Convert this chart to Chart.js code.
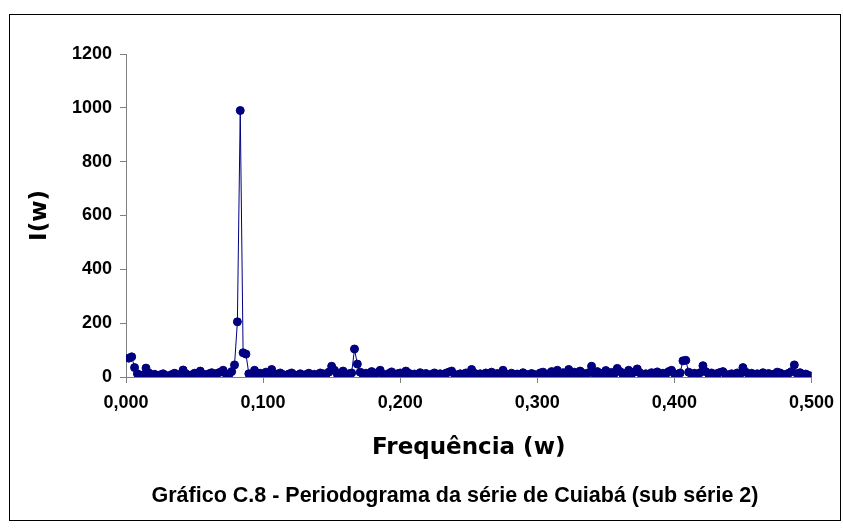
<!DOCTYPE html>
<html>
<head>
<meta charset="utf-8">
<title>Periodograma - Cuiabá</title>
<script src="https://cdn.jsdelivr.net/npm/chart.js@4.4.1/dist/chart.umd.min.js"></script>
<style>
    html, body { margin: 0; padding: 0; background: #fff; }
    #wrap { width: 843px; height: 531px; }
</style>
</head>
<body>
<div id="wrap"><canvas id="periodChart" width="843" height="531"></canvas></div>
<script>
// Dados do periodograma (sub série 2) - N = 480 meses, frequências k/480
const nObs = 480;
const intensidade = [
    70, 75, 35, 12, 5, 8, 33, 15, 6, 10,
    4, 8, 12, 6, 3, 9, 14, 7, 10, 26,
    12, 5, 8, 14, 9, 22, 11, 6, 12, 16,
    9, 14, 18, 25, 12, 8, 20, 45, 205, 990,
    90, 85, 12, 8, 25, 10, 14, 6, 18, 9,
    28, 12, 7, 15, 9, 4, 11, 15, 8, 6,
    12, 5, 9, 14, 7, 10, 6, 15, 12, 8,
    18, 40, 25, 10, 14, 22, 8, 12, 15, 104,
    48, 18, 9, 14, 7, 20, 11, 16, 25, 10,
    6, 13, 19, 8, 12, 15, 9, 22, 14, 7,
    11, 5, 16, 9, 13, 6, 10, 15, 8, 12,
    7, 14, 18, 22, 10, 6, 12, 9, 15, 11,
    28, 14, 8, 12, 6, 15, 10, 18, 7, 13,
    9, 25, 12, 6, 14, 8, 11, 5, 16, 10,
    7, 13, 9, 6, 15, 18, 8, 12, 20, 14,
    25, 10, 16, 9, 28, 12, 18, 8, 22, 14,
    10, 16, 40, 12, 20, 9, 15, 24, 11, 17,
    13, 32, 20, 9, 14, 25, 12, 18, 30, 15,
    8, 12, 6, 16, 10, 19, 7, 14, 11, 20,
    25, 12, 8, 15, 60, 62, 18, 10, 14, 9,
    16, 42, 20, 11, 15, 8, 13, 17, 20, 10,
    7, 12, 9, 15, 11, 35, 18, 10, 14, 8,
    12, 6, 16, 9, 13, 7, 11, 18, 15, 10,
    8, 14, 20, 45, 12, 16, 9, 11, 6, 3
];
const xTicks = [0, 0.1, 0.2, 0.3, 0.4, 0.5];
const yTicks = [0, 200, 400, 600, 800, 1000, 1200];

const pontos = intensidade.map((v, i) => ({ x: (i + 1) / nObs, y: v }));

// moldura e legenda do gráfico
const molduraPlugin = {
    id: 'moldura',
    beforeDraw(chart) {
        const ctx = chart.ctx;
        ctx.save();
        ctx.fillStyle = '#fff';
        ctx.fillRect(0, 0, chart.width, chart.height);
        ctx.strokeStyle = '#000';
        ctx.lineWidth = 1;
        ctx.strokeRect(9.5, 14.5, 831, 506);
        ctx.restore();
    },
    afterDraw(chart) {
        const ctx = chart.ctx;
        ctx.save();
        ctx.fillStyle = '#000';
        ctx.font = 'bold 21.5px "Liberation Sans", Arial, sans-serif';
        ctx.textAlign = 'center';
        ctx.textBaseline = 'middle';
        ctx.fillText('Gráfico C.8 - Periodograma da série de Cuiabá (sub série 2)', 455, 496);
        ctx.restore();
    }
};

const tickFont = { family: '"Liberation Sans", Arial, sans-serif', size: 18, weight: 'bold' };
const tituloFont = { family: '"DejaVu Sans", sans-serif', size: 23, weight: 'bold' };

new Chart(document.getElementById('periodChart'), {
    type: 'scatter',
    data: {
        datasets: [{
            label: 'I(w)',
            data: pontos,
            showLine: true,
            borderColor: '#000080',
            backgroundColor: '#000080',
            borderWidth: 1,
            pointRadius: 4,
            pointBorderWidth: 1,
            pointBorderColor: '#000080',
            pointBackgroundColor: '#000080'
        }]
    },
    options: {
        responsive: false,
        animation: false,
        layout: { padding: { left: 9, top: 54, right: 27, bottom: 69 } },
        plugins: {
            legend: { display: false },
            tooltip: { enabled: false }
        },
        scales: {
            x: {
                type: 'linear',
                min: 0,
                max: 0.5,
                afterFit: (s) => { s.height = 85; },
                afterBuildTicks: (s) => { s.ticks = xTicks.map(v => ({ value: v })); },
                border: { display: true, color: '#808080', width: 1 },
                grid: { drawOnChartArea: false, drawTicks: true, tickLength: 6, color: '#808080' },
                ticks: {
                    color: '#000',
                    padding: 9,
                    maxRotation: 0,
                    font: tickFont,
                    callback: (v) => v.toFixed(3).replace('.', ',')
                },
                title: {
                    display: true,
                    text: 'Frequência (w)',
                    color: '#000',
                    padding: 0,
                    font: tituloFont
                }
            },
            y: {
                min: 0,
                max: 1200,
                afterFit: (s) => { s.width = 117; },
                afterBuildTicks: (s) => { s.ticks = yTicks.map(v => ({ value: v })); },
                border: { display: true, color: '#808080', width: 1 },
                grid: { drawOnChartArea: false, drawTicks: true, tickLength: 6, color: '#808080' },
                ticks: {
                    color: '#000',
                    padding: 8,
                    font: tickFont,
                    callback: (v) => String(v)
                },
                title: {
                    display: true,
                    text: 'I(w)',
                    color: '#000',
                    padding: { top: 17, bottom: 0 },
                    font: tituloFont
                }
            }
        }
    },
    plugins: [molduraPlugin]
});
</script>
</body>
</html>
